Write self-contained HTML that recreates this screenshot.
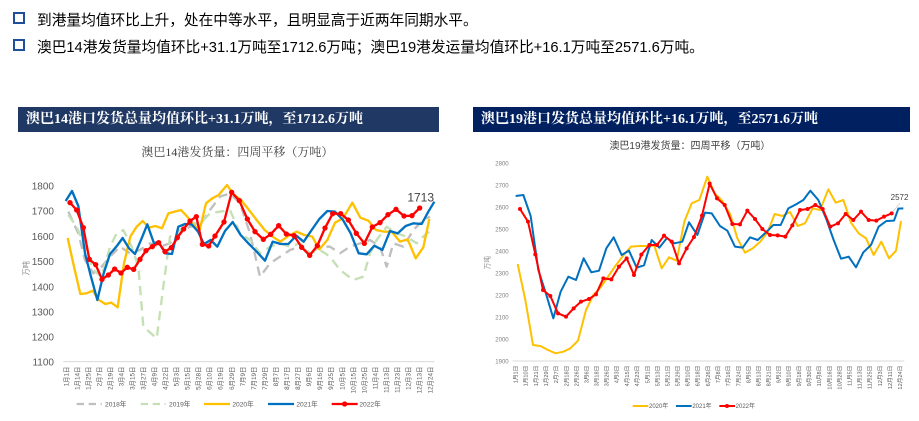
<!DOCTYPE html>
<html><head><meta charset="utf-8"><style>
body{margin:0;width:919px;height:421px;background:#fff;position:relative;overflow:hidden;font-family:"Liberation Sans","Noto Sans CJK SC",sans-serif}
.b{position:absolute;left:13px;font-size:14.7px;color:#000;white-space:nowrap}
.b i{display:inline-block;width:8px;height:8px;border:2px solid #1f4e9a;margin-right:12px;vertical-align:1px}
.h{position:absolute;top:107px;height:25px;color:#fff;font-family:"Liberation Serif","Noto Serif CJK SC",serif;font-weight:bold;font-size:14px;line-height:25px;padding-left:8px;box-sizing:border-box}
svg{position:absolute;top:100px}
</style></head><body>
<div class="b" style="top:9px"><i></i>到港量均值环比上升，处在中等水平，且明显高于近两年同期水平。</div>
<div class="b" style="top:36px"><i></i>澳巴14港发货量均值环比+31.1万吨至1712.6万吨；澳巴19港发运量均值环比+16.1万吨至2571.6万吨。</div>
<div class="h" style="left:18px;width:421px;background:#1f3864">澳巴14港口发货总量均值环比+31.1万吨，至1712.6万吨</div>
<div class="h" style="left:473px;width:437px;background:#002060">澳巴19港口发货总量均值环比+16.1万吨，至2571.6万吨</div>

<svg style="left:0" width="450" height="321" viewBox="0 0 1350 963" font-family="Liberation Sans,Noto Sans CJK SC,sans-serif">
<text x="712" y="168" font-size="36" fill="#404040" text-anchor="middle" font-family="Liberation Serif,Noto Serif CJK SC,serif">澳巴14港发货量：四周平移（万吨）</text>
<g font-size="30" fill="#595959" text-anchor="end">
<text x="162" y="269">1800</text><text x="162" y="344">1700</text><text x="162" y="420">1600</text><text x="162" y="495">1500</text><text x="162" y="571">1400</text><text x="162" y="646">1300</text><text x="162" y="721">1200</text><text x="162" y="797">1100</text></g>
<text transform="translate(85,505) rotate(-90)" font-size="22" fill="#888" text-anchor="middle">万吨</text>
<line x1="190" y1="785" x2="1303" y2="785" stroke="#d9d9d9" stroke-width="3"/>
<g font-size="19" fill="#595959" text-anchor="end">
<text transform="translate(205,800) rotate(-90)">1月1日</text><text transform="translate(238,800) rotate(-90)">1月14日</text><text transform="translate(271,800) rotate(-90)">1月25日</text><text transform="translate(304,800) rotate(-90)">2月7日</text><text transform="translate(337,800) rotate(-90)">2月19日</text><text transform="translate(370,800) rotate(-90)">3月4日</text><text transform="translate(404,800) rotate(-90)">3月15日</text><text transform="translate(437,800) rotate(-90)">3月27日</text><text transform="translate(470,800) rotate(-90)">4月9日</text><text transform="translate(503,800) rotate(-90)">4月22日</text><text transform="translate(536,800) rotate(-90)">5月3日</text><text transform="translate(569,800) rotate(-90)">5月15日</text><text transform="translate(602,800) rotate(-90)">5月28日</text><text transform="translate(635,800) rotate(-90)">6月10日</text><text transform="translate(668,800) rotate(-90)">6月19日</text><text transform="translate(702,800) rotate(-90)">6月29日</text><text transform="translate(735,800) rotate(-90)">7月9日</text><text transform="translate(768,800) rotate(-90)">7月19日</text><text transform="translate(801,800) rotate(-90)">7月29日</text><text transform="translate(834,800) rotate(-90)">8月7日</text><text transform="translate(867,800) rotate(-90)">8月17日</text><text transform="translate(900,800) rotate(-90)">8月27日</text><text transform="translate(933,800) rotate(-90)">9月6日</text><text transform="translate(966,800) rotate(-90)">9月16日</text><text transform="translate(999,800) rotate(-90)">9月25日</text><text transform="translate(1033,800) rotate(-90)">10月5日</text><text transform="translate(1066,800) rotate(-90)">10月15日</text><text transform="translate(1099,800) rotate(-90)">10月25日</text><text transform="translate(1132,800) rotate(-90)">11月4日</text><text transform="translate(1165,800) rotate(-90)">11月13日</text><text transform="translate(1198,800) rotate(-90)">11月23日</text><text transform="translate(1231,800) rotate(-90)">12月3日</text><text transform="translate(1264,800) rotate(-90)">12月13日</text><text transform="translate(1298,800) rotate(-90)">12月24日</text></g>
<g fill="none" stroke-width="7" stroke-linejoin="round">
<polyline stroke="#bfbfbf" stroke-dasharray="28,18" points="205,335 235,400 255,480 280,520 305,500 330,470 360,440 390,460 420,450 450,430 480,440 510,430 540,400 570,380 600,375 630,330 660,290 690,280 720,310 750,400 780,530 810,490 840,470 870,450 900,440 930,460 960,440 990,440 1020,460 1050,440 1080,430 1110,420 1140,440 1160,500 1180,430 1210,440 1240,390 1270,360 1290,350"/>
<polyline stroke="#c5e0b4" stroke-dasharray="28,18" points="205,345 230,380 255,440 280,510 305,530 330,440 350,400 370,390 395,440 415,500 430,680 470,715 490,560 510,410 540,390 570,370 600,370 630,340 660,335 690,330 720,400 750,420 780,460 810,440 840,430 870,440 900,430 930,460 960,450 990,470 1020,510 1060,540 1090,530 1110,460 1130,420 1160,380 1190,400 1220,410 1250,430 1280,400 1300,390"/>
<polyline stroke="#ffc000" points="203,414 222,500 241,582 260,580 278,572 297,600 316,612 334,608 353,622 372,490 391,410 410,380 428,363 447,383 466,378 486,385 505,340 524,335 543,330 562,350 580,375 599,390 618,310 637,295 656,285 681,255 700,283 723,300 747,330 770,360 794,390 818,410 841,425 865,408 890,395 913,405 937,410 958,448 982,420 1005,368 1029,355 1057,308 1081,353 1105,362 1128,390 1152,395 1175,395 1200,425 1223,418 1247,475 1270,442 1288,357"/>
<polyline stroke="#0070c0" points="197,303 216,273 235,318 255,460 273,530 292,600 311,520 330,462 349,440 368,414 387,445 405,462 425,415 442,373 462,430 475,425 496,460 516,462 535,380 555,372 575,373 594,395 612,432 632,420 652,440 675,393 698,366 722,405 745,430 770,455 795,482 818,425 842,432 865,432 889,407 911,425 935,390 958,357 982,333 1005,335 1029,360 1052,400 1076,460 1100,463 1123,437 1147,450 1170,393 1193,400 1217,378 1240,370 1265,372 1285,335 1303,305"/>
<polyline stroke="#ff0000" points="210,308 230,330 250,383 268,478 287,494 306,538 325,525 344,507 363,519 382,502 401,508 420,478 438,452 457,440 476,428 495,455 514,443 532,413 551,387 570,363 589,350 607,433 626,438 645,408 672,366 695,277 718,302 742,357 765,395 790,418 812,403 836,377 859,402 882,407 905,442 929,466 952,437 975,384 998,341 1022,341 1045,360 1069,400 1093,430 1117,381 1140,368 1164,344 1188,328 1212,348 1236,347 1259,324"/>
</g>
<g fill="#ff0000"><circle cx="210" cy="308" r="8"/><circle cx="230" cy="330" r="8"/><circle cx="250" cy="383" r="8"/><circle cx="268" cy="478" r="8"/><circle cx="287" cy="494" r="8"/><circle cx="306" cy="538" r="8"/><circle cx="325" cy="525" r="8"/><circle cx="344" cy="507" r="8"/><circle cx="363" cy="519" r="8"/><circle cx="382" cy="502" r="8"/><circle cx="401" cy="508" r="8"/><circle cx="420" cy="478" r="8"/><circle cx="438" cy="452" r="8"/><circle cx="457" cy="440" r="8"/><circle cx="476" cy="428" r="8"/><circle cx="495" cy="455" r="8"/><circle cx="514" cy="443" r="8"/><circle cx="532" cy="413" r="8"/><circle cx="551" cy="387" r="8"/><circle cx="570" cy="363" r="8"/><circle cx="589" cy="350" r="8"/><circle cx="607" cy="433" r="8"/><circle cx="626" cy="438" r="8"/><circle cx="645" cy="408" r="8"/><circle cx="672" cy="366" r="8"/><circle cx="695" cy="277" r="8"/><circle cx="718" cy="302" r="8"/><circle cx="742" cy="357" r="8"/><circle cx="765" cy="395" r="8"/><circle cx="790" cy="418" r="8"/><circle cx="812" cy="403" r="8"/><circle cx="836" cy="377" r="8"/><circle cx="859" cy="402" r="8"/><circle cx="882" cy="407" r="8"/><circle cx="905" cy="442" r="8"/><circle cx="929" cy="466" r="8"/><circle cx="952" cy="437" r="8"/><circle cx="975" cy="384" r="8"/><circle cx="998" cy="341" r="8"/><circle cx="1022" cy="341" r="8"/><circle cx="1045" cy="360" r="8"/><circle cx="1069" cy="400" r="8"/><circle cx="1093" cy="430" r="8"/><circle cx="1117" cy="381" r="8"/><circle cx="1140" cy="368" r="8"/><circle cx="1164" cy="344" r="8"/><circle cx="1188" cy="328" r="8"/><circle cx="1212" cy="348" r="8"/><circle cx="1236" cy="347" r="8"/><circle cx="1259" cy="324" r="8"/></g>
<text x="1222" y="305" font-size="36" fill="#404040">1713</text>
<g font-size="20" fill="#595959">
<line x1="230" y1="912" x2="305" y2="912" stroke="#bfbfbf" stroke-width="7" stroke-dasharray="22,14"/><text x="315" y="919">2018年</text>
<line x1="422" y1="912" x2="497" y2="912" stroke="#c5e0b4" stroke-width="7" stroke-dasharray="22,14"/><text x="507" y="919">2019年</text>
<line x1="612" y1="912" x2="690" y2="912" stroke="#ffc000" stroke-width="7"/><text x="697" y="919">2020年</text>
<line x1="804" y1="912" x2="882" y2="912" stroke="#0070c0" stroke-width="7"/><text x="889" y="919">2021年</text>
<line x1="995" y1="912" x2="1073" y2="912" stroke="#ff0000" stroke-width="7"/><circle cx="1034" cy="912" r="8" fill="#ff0000"/><text x="1078" y="919">2022年</text></g>
</svg>

<svg style="left:470px" width="449" height="321" viewBox="0 0 1347 963" font-family="Liberation Sans,Noto Sans CJK SC,sans-serif">
<text x="660" y="147" font-size="30" fill="#404040" text-anchor="middle">澳巴19港发货量：四周平移（万吨）</text>
<g font-size="18" fill="#7f7f7f" text-anchor="end">
<text x="116" y="196">2800</text><text x="116" y="262">2700</text><text x="116" y="328">2600</text><text x="116" y="394">2500</text><text x="116" y="460">2400</text><text x="116" y="526">2300</text><text x="116" y="592">2200</text><text x="116" y="658">2100</text><text x="116" y="724">2000</text><text x="116" y="790">1900</text></g>
<text transform="translate(58,488) rotate(-90)" font-size="20" fill="#888" text-anchor="middle">万吨</text>
<line x1="128" y1="783" x2="1303" y2="783" stroke="#d9d9d9" stroke-width="3"/>
<g font-size="17" fill="#595959" text-anchor="end">
<text transform="translate(143,797) rotate(-90)">1月1日</text><text transform="translate(173,797) rotate(-90)">1月10日</text><text transform="translate(204,797) rotate(-90)">1月21日</text><text transform="translate(234,797) rotate(-90)">1月29日</text><text transform="translate(264,797) rotate(-90)">2月7日</text><text transform="translate(295,797) rotate(-90)">2月18日</text><text transform="translate(325,797) rotate(-90)">2月26日</text><text transform="translate(355,797) rotate(-90)">3月6日</text><text transform="translate(386,797) rotate(-90)">3月18日</text><text transform="translate(416,797) rotate(-90)">3月26日</text><text transform="translate(446,797) rotate(-90)">4月3日</text><text transform="translate(477,797) rotate(-90)">4月15日</text><text transform="translate(507,797) rotate(-90)">4月23日</text><text transform="translate(538,797) rotate(-90)">5月1日</text><text transform="translate(568,797) rotate(-90)">5月13日</text><text transform="translate(598,797) rotate(-90)">5月21日</text><text transform="translate(629,797) rotate(-90)">5月29日</text><text transform="translate(659,797) rotate(-90)">6月10日</text><text transform="translate(689,797) rotate(-90)">6月18日</text><text transform="translate(720,797) rotate(-90)">6月26日</text><text transform="translate(750,797) rotate(-90)">7月8日</text><text transform="translate(780,797) rotate(-90)">7月16日</text><text transform="translate(811,797) rotate(-90)">7月24日</text><text transform="translate(841,797) rotate(-90)">8月5日</text><text transform="translate(871,797) rotate(-90)">8月13日</text><text transform="translate(902,797) rotate(-90)">8月21日</text><text transform="translate(932,797) rotate(-90)">9月2日</text><text transform="translate(962,797) rotate(-90)">9月10日</text><text transform="translate(993,797) rotate(-90)">9月18日</text><text transform="translate(1023,797) rotate(-90)">9月30日</text><text transform="translate(1053,797) rotate(-90)">10月8日</text><text transform="translate(1084,797) rotate(-90)">10月16日</text><text transform="translate(1114,797) rotate(-90)">10月28日</text><text transform="translate(1145,797) rotate(-90)">11月5日</text><text transform="translate(1175,797) rotate(-90)">11月13日</text><text transform="translate(1205,797) rotate(-90)">11月25日</text><text transform="translate(1236,797) rotate(-90)">12月3日</text><text transform="translate(1266,797) rotate(-90)">12月11日</text><text transform="translate(1296,797) rotate(-90)">12月24日</text></g>
<g fill="none" stroke-width="6" stroke-linejoin="round">
<polyline stroke="#ffc000" points="143,492 166,600 189,735 211,738 234,750 257,760 280,755 301,745 324,722 348,630 370,585 392,562 414,530 436,498 461,465 483,440 508,438 530,438 553,437 575,505 597,472 620,482 643,365 665,310 688,300 712,230 734,280 757,303 781,344 802,415 825,458 848,445 871,425 893,396 914,342 937,348 960,336 983,378 1005,370 1028,325 1050,330 1075,268 1097,308 1120,300 1143,368 1166,400 1188,415 1211,465 1234,425 1257,475 1278,452 1293,363"/>
<polyline stroke="#0070c0" points="137,288 160,285 182,348 205,510 227,578 250,655 272,575 295,530 318,540 341,475 364,517 387,512 409,445 431,412 455,465 477,452 500,503 522,496 545,420 568,443 591,414 613,430 637,425 657,367 682,405 705,338 725,340 750,378 772,392 795,440 818,443 840,412 863,420 887,398 910,375 932,375 955,325 978,313 1000,300 1021,272 1045,300 1068,355 1091,420 1113,476 1136,470 1158,502 1180,457 1203,435 1226,380 1249,363 1272,362 1285,326 1300,325"/>
<polyline stroke="#ff0000" points="150,327 174,365 196,463 219,570 241,588 264,640 288,650 311,625 333,605 357,597 378,583 400,535 424,538 447,500 470,475 492,525 514,464 538,435 561,435 582,407 605,425 627,490 650,445 672,411 696,347 719,251 741,295 764,315 787,372 810,373 832,332 855,357 877,387 900,405 923,406 946,410 967,376 990,330 1013,327 1036,315 1058,327 1081,380 1104,370 1127,342 1150,360 1173,335 1196,360 1219,362 1242,350 1265,340"/>
</g>
<g fill="#ff0000"><circle cx="150" cy="327" r="6"/><circle cx="174" cy="365" r="6"/><circle cx="196" cy="463" r="6"/><circle cx="219" cy="570" r="6"/><circle cx="241" cy="588" r="6"/><circle cx="264" cy="640" r="6"/><circle cx="288" cy="650" r="6"/><circle cx="311" cy="625" r="6"/><circle cx="333" cy="605" r="6"/><circle cx="357" cy="597" r="6"/><circle cx="378" cy="583" r="6"/><circle cx="400" cy="535" r="6"/><circle cx="424" cy="538" r="6"/><circle cx="447" cy="500" r="6"/><circle cx="470" cy="475" r="6"/><circle cx="492" cy="525" r="6"/><circle cx="514" cy="464" r="6"/><circle cx="538" cy="435" r="6"/><circle cx="561" cy="435" r="6"/><circle cx="582" cy="407" r="6"/><circle cx="605" cy="425" r="6"/><circle cx="627" cy="490" r="6"/><circle cx="650" cy="445" r="6"/><circle cx="672" cy="411" r="6"/><circle cx="696" cy="347" r="6"/><circle cx="719" cy="251" r="6"/><circle cx="741" cy="295" r="6"/><circle cx="764" cy="315" r="6"/><circle cx="787" cy="372" r="6"/><circle cx="810" cy="373" r="6"/><circle cx="832" cy="332" r="6"/><circle cx="855" cy="357" r="6"/><circle cx="877" cy="387" r="6"/><circle cx="900" cy="405" r="6"/><circle cx="923" cy="406" r="6"/><circle cx="946" cy="410" r="6"/><circle cx="967" cy="376" r="6"/><circle cx="990" cy="330" r="6"/><circle cx="1013" cy="327" r="6"/><circle cx="1036" cy="315" r="6"/><circle cx="1058" cy="327" r="6"/><circle cx="1081" cy="380" r="6"/><circle cx="1104" cy="370" r="6"/><circle cx="1127" cy="342" r="6"/><circle cx="1150" cy="360" r="6"/><circle cx="1173" cy="335" r="6"/><circle cx="1196" cy="360" r="6"/><circle cx="1219" cy="362" r="6"/><circle cx="1242" cy="350" r="6"/><circle cx="1265" cy="340" r="6"/></g>
<line x1="1268" y1="335" x2="1290" y2="310" stroke="#bfbfbf" stroke-width="2"/>
<text x="1262" y="300" font-size="24" fill="#404040">2572</text>
<g font-size="18" fill="#595959">
<line x1="488" y1="918" x2="535" y2="918" stroke="#ffc000" stroke-width="6"/><text x="537" y="924">2020年</text>
<line x1="618" y1="918" x2="665" y2="918" stroke="#0070c0" stroke-width="6"/><text x="667" y="924">2021年</text>
<line x1="748" y1="918" x2="795" y2="918" stroke="#ff0000" stroke-width="6"/><circle cx="771" cy="918" r="6" fill="#ff0000"/><text x="797" y="924">2022年</text></g>
</svg>
</body></html>
